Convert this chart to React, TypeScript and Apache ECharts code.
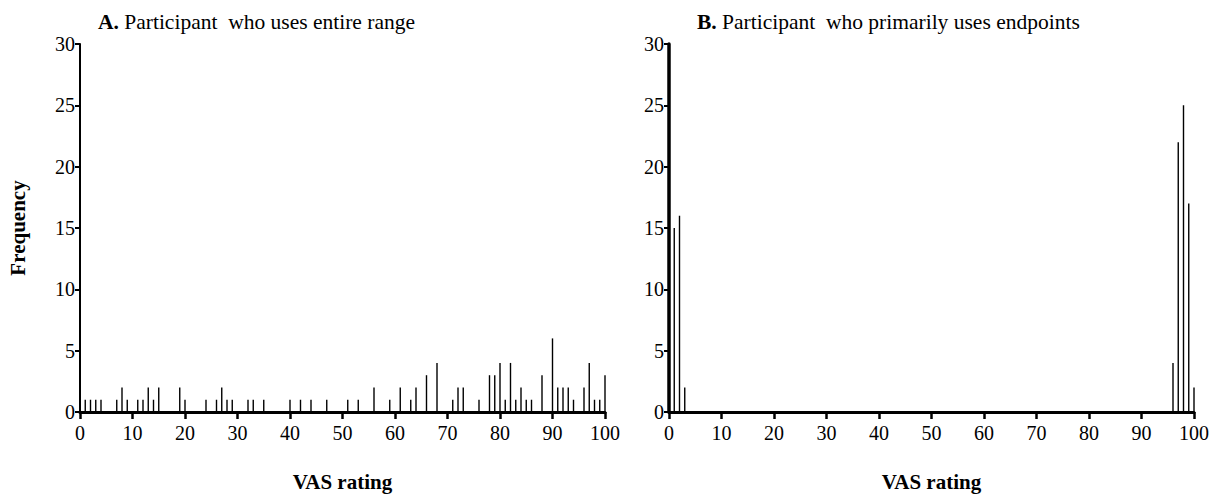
import React, { useEffect, useRef } from 'react';
import * as echarts from 'echarts';

const FONT = 'Liberation Serif';

const ratingsA = [1, 2, 3, 4, 7, 8, 9, 11, 12, 13, 14, 15, 19, 20, 24, 26, 27, 28, 29, 32, 33, 35, 40, 42, 44, 47, 51, 53, 56, 59, 61, 63, 64, 66, 68, 71, 72, 73, 76, 78, 79, 80, 81, 82, 83, 84, 85, 86, 88, 90, 91, 92, 93, 94, 96, 97, 98, 99, 100];
const countsA = [1, 1, 1, 1, 1, 2, 1, 1, 1, 2, 1, 2, 2, 1, 1, 1, 2, 1, 1, 1, 1, 1, 1, 1, 1, 1, 1, 1, 2, 1, 2, 1, 2, 3, 4, 1, 2, 2, 1, 3, 3, 4, 1, 4, 1, 2, 1, 1, 3, 6, 2, 2, 2, 1, 2, 4, 1, 1, 3];

const ratingsB = [1, 2, 3, 96, 97, 98, 99, 100];
const countsB = [15, 16, 2, 4, 22, 25, 17, 2];

const titleA = 'Participant  who uses entire range';
const titleB = 'Participant  who primarily uses endpoints';
const xName = 'VAS rating';
const yName = 'Frequency';

export default function App() {
  const ref = useRef<HTMLDivElement>(null);
  useEffect(() => {
    if (!ref.current) return;
    const chart = echarts.init(ref.current, null, { renderer: 'svg' });
    const grids = [
      { left: 80, top: 44, width: 525, height: 374 },
      { left: 669, top: 44, width: 525, height: 374 },
    ];
    const mkX = (i: number) => ({
      type: 'value',
      gridIndex: i,
      min: 0,
      max: 100,
      interval: 10,
      name: xName,
      nameLocation: 'middle',
      nameGap: 59,
      nameTextStyle: { fontFamily: FONT, fontSize: 21, fontWeight: 'bold', color: '#000' },
      axisLine: { show: true, lineStyle: { color: '#000', width: 3 } },
      axisTick: { show: true, length: 7, lineStyle: { color: '#000', width: 2.5 } },
      axisLabel: { fontFamily: FONT, fontSize: 20, color: '#000', margin: 11 },
      splitLine: { show: false },
    });
    const mkY = (i: number, withName: boolean, w: number) => ({
      type: 'value',
      gridIndex: i,
      min: 0,
      max: 30,
      interval: 5,
      name: withName ? yName : '',
      nameLocation: 'middle',
      nameGap: 52,
      nameRotate: 90,
      nameTextStyle: { fontFamily: FONT, fontSize: 21, fontWeight: 'bold', color: '#000' },
      axisLine: { show: true, lineStyle: { color: '#000', width: w } },
      axisTick: { show: true, length: 5, lineStyle: { color: '#000', width: 2 } },
      axisLabel: { fontFamily: FONT, fontSize: 20, color: '#000', margin: 5 },
      splitLine: { show: false },
    });
    const mkTitle = (letter: string, text: string, left: number) => ({
      text: '{b|' + letter + '} ' + text,
      left,
      top: 6,
      textStyle: {
        fontFamily: FONT,
        fontSize: 21.5,
        fontWeight: 'normal',
        color: '#000',
        rich: { b: { fontFamily: FONT, fontSize: 21.5, fontWeight: 'bold', color: '#000' } },
      },
    });
    chart.setOption({
      animation: false,
      backgroundColor: '#fff',
      title: [mkTitle('A.', titleA, 93), mkTitle('B.', titleB, 692)],
      grid: grids,
      xAxis: [mkX(0), mkX(1)],
      yAxis: [mkY(0, true, 2), mkY(1, false, 3.5)],
      series: [
        {
          type: 'bar',
          xAxisIndex: 0,
          yAxisIndex: 0,
          barWidth: 1.4,
          itemStyle: { color: '#000' },
          data: ratingsA.map((r, i) => [r, countsA[i]]),
        },
        {
          type: 'bar',
          xAxisIndex: 1,
          yAxisIndex: 1,
          barWidth: 1.4,
          itemStyle: { color: '#000' },
          data: ratingsB.map((r, i) => [r, countsB[i]]),
        },
      ],
    });
    return () => chart.dispose();
  }, []);
  return (
    <div
      ref={ref}
      style={{ position: 'absolute', left: 0, top: 0, width: 1220, height: 497, background: '#fff' }}
    />
  );
}
